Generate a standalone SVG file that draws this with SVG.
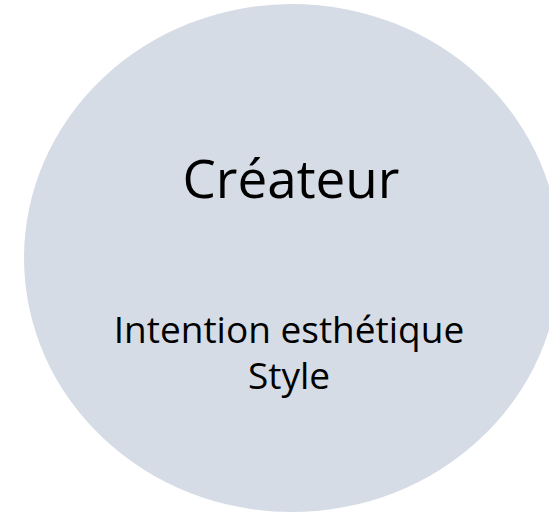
<svg xmlns="http://www.w3.org/2000/svg" width="549" height="512" viewBox="0 0 549 512">
<style>
.t{font-family:"Open Sans","Liberation Sans",sans-serif;fill:#000;text-anchor:middle}
</style>
<rect width="549" height="512" fill="#fff"/>
<g id="createur">
<ellipse cx="292" cy="258" rx="268" ry="254" fill="#D6DCE5"/>
<text class="t" x="291" y="198" font-size="53">Créateur</text>
<text class="t" font-size="37"><tspan x="289" y="343">Intention esthétique</tspan><tspan x="289" y="389">Style</tspan></text>
</g>
</svg>
